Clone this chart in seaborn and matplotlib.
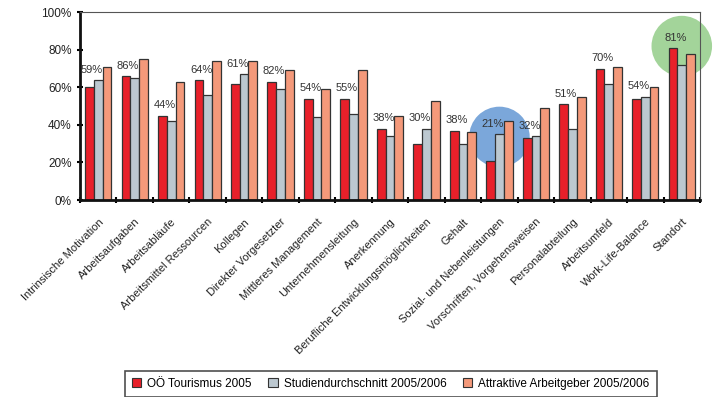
import numpy as np
import pandas as pd
from matplotlib import pyplot as plt
import seaborn as sns

categories = ["Intrinsische Motivation", "Arbeitsaufgaben", "Arbeitsabläufe",
              "Arbeitsmittel Ressourcen", "Kollegen", "Direkter Vorgesetzter",
              "Mittleres Management", "Unternehmensleitung", "Anerkennung",
              "Berufliche Entwicklungsmöglichkeiten", "Gehalt",
              "Sozial- und Nebenleistungen", "Vorschriften, Vorgehensweisen",
              "Personalabteilung", "Arbeitsumfeld", "Work-Life-Balance", "Standort"]
series = ["OÖ Tourismus 2005", "Studiendurchschnitt 2005/2006",
          "Attraktive Arbeitgeber 2005/2006"]

ooe = [60, 66, 45, 64, 62, 63, 54, 54, 38, 30, 37, 21, 33, 51, 70, 54, 81]
studie = [64, 65, 42, 56, 67, 59, 44, 46, 34, 38, 30, 35, 34, 38, 62, 55, 72]
attraktiv = [71, 75, 63, 74, 74, 69, 59, 69, 45, 53, 36, 42, 49, 55, 71, 60, 78]
labels = ["59%", "86%", "44%", "64%", "61%", "82%", "54%", "55%", "38%",
          "30%", "38%", "21%", "32%", "51%", "70%", "54%", "81%"]

colors = ["#E8202A", "#BCC8D0", "#F4997A"]

df = pd.DataFrame({"Kategorie": categories * 3,
                   "Serie": np.repeat(series, len(categories)),
                   "Wert": ooe + studie + attraktiv})

plt.rcParams["font.family"] = ["Liberation Sans", "DejaVu Sans"]
fig = plt.figure(figsize=(7.13, 3.97), dpi=100)
ax = fig.add_axes([0.1122, 0.4962, 0.8696, 0.4728])

n = len(categories)
x = np.arange(n)

# highlight circles behind the bars
ax.scatter([11, 16], [33.6, 82], s=1900, color=["#7BA7DA", "#A3D49A"],
           zorder=0, clip_on=False, linewidths=0)

sns.barplot(data=df, x="Kategorie", y="Wert", hue="Serie", palette=colors,
            width=0.72, gap=0, edgecolor="#333333", linewidth=0.9,
            saturation=1, ax=ax, zorder=2)

bw = 0.72 / 3
for i in range(n):
    ytxt = max(ooe[i], studie[i]) + 5.5
    ax.text(x[i] - bw + 0.06, ytxt, labels[i], ha="center", va="center",
            fontsize=8, color="#333333", zorder=3)

ax.set_xlim(-0.5, n - 0.5)
ax.set_ylim(0, 100)
ax.set_yticks(range(0, 101, 20))
ax.set_yticklabels([f"{v}%" for v in range(0, 101, 20)], fontsize=8.5, color="#222222")
ax.set_xticks(x)
ax.set_xticklabels(categories, rotation=45, ha="right", rotation_mode="anchor",
                   fontsize=8, color="#222222")
ax.set_xticks(np.arange(-0.5, n, 1), minor=True)
ax.tick_params(axis="x", which="major", length=0, pad=12)
ax.tick_params(axis="x", which="minor", length=5, width=1.5, direction="inout")
ax.tick_params(axis="y", length=5, width=1.5, direction="inout")
ax.set_xlabel("")
ax.set_ylabel("")

for s in ["left", "bottom"]:
    ax.spines[s].set_linewidth(2)
    ax.spines[s].set_color("#111111")
for s in ["top", "right"]:
    ax.spines[s].set_linewidth(0.8)
    ax.spines[s].set_color("#555555")

ax.legend_.remove()
handles = [plt.Rectangle((0, 0), 1, 1, facecolor=c, edgecolor="#333333", linewidth=0.8)
           for c in colors]
leg = fig.legend(handles, series, loc="center", bbox_to_anchor=(0.548, 0.033),
                 ncol=3, fontsize=8.5, frameon=True, fancybox=False,
                 handlelength=0.8, handleheight=0.8, handletextpad=0.5,
                 columnspacing=1.4, borderpad=0.6)
leg.get_frame().set_edgecolor("#222222")
leg.get_frame().set_linewidth(1.2)

fig.savefig("out.png", dpi=100)
